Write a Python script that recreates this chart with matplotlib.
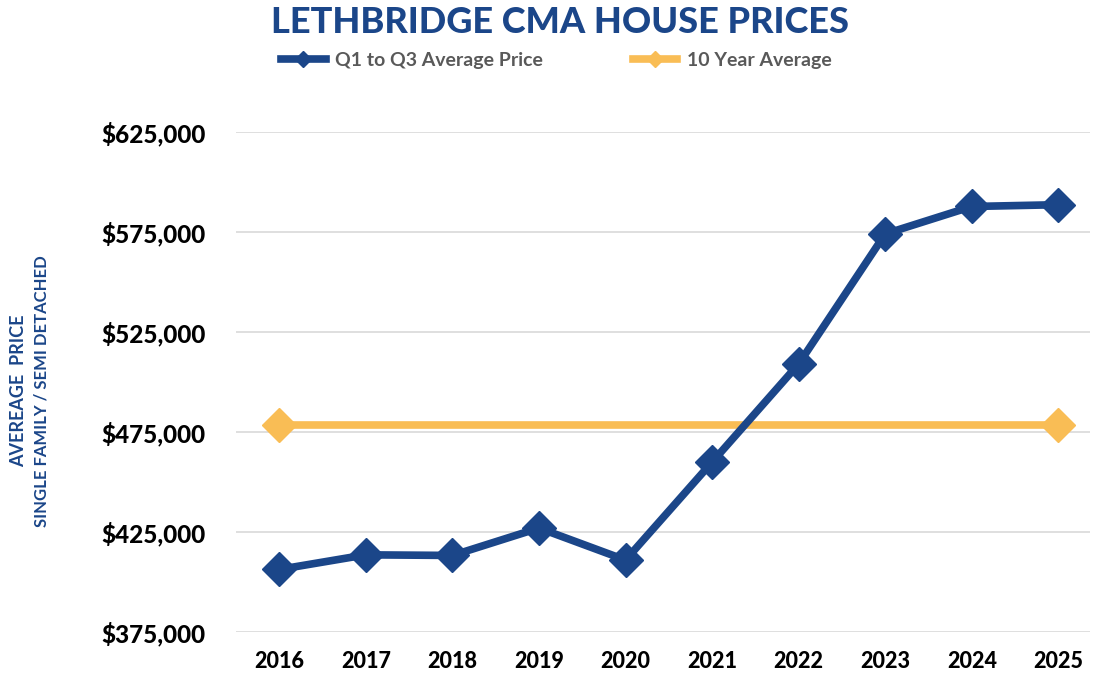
import matplotlib.pyplot as plt
from matplotlib.ticker import FuncFormatter

years = ["2016", "2017", "2018", "2019", "2020", "2021", "2022", "2023", "2024", "2025"]
avg_price = [406300, 413600, 413300, 427000, 411000, 460000, 509100, 574200, 587900, 588800]
ten_year_avg = [478700] * len(years)

navy = "#1b4689"
gold = "#f9bd55"

plt.rcParams["font.family"] = ["Lato", "DejaVu Sans"]

fig = plt.figure(figsize=(10.95, 6.77), dpi=100)
ax = fig.add_axes([0.2155, 0.0665, 0.7795, 0.738])

x = list(range(len(years)))
ax.plot(x, avg_price, color=navy, lw=5.5, marker="D", ms=17, zorder=3,
        label="Q1 to Q3 Average Price", solid_joinstyle="miter")
ax.plot(x, ten_year_avg, color=gold, lw=5.5, marker="D", ms=17, markevery=[0, len(years) - 1],
        zorder=2, label="10 Year Average")

ax.set_ylim(375000, 625000)
ax.set_yticks(range(375000, 625001, 50000))
ax.yaxis.set_major_formatter(FuncFormatter(lambda v, _: f"${v:,.0f}"))
ax.set_xlim(-0.5, 9.36)
ax.set_xticks(x)
ax.set_xticklabels(years)
ax.grid(axis="y", color="#dcdcdc", lw=1.3)
ax.set_axisbelow(True)
for s in ax.spines.values():
    s.set_visible(False)
ax.tick_params(length=0)
ax.tick_params(axis="y", labelsize=17.5, pad=22)
ax.tick_params(axis="x", labelsize=15.5, pad=14)
for lbl in ax.get_yticklabels() + ax.get_xticklabels():
    lbl.set_fontweight(900)
    lbl.set_color("black")
for line in ax.lines:
    line.set_clip_on(False)

fig.text(0.511, 0.967, "LETHBRIDGE CMA HOUSE PRICES", ha="center", va="center",
         fontsize=26, fontweight=900, color=navy)

leg = fig.legend(loc="center", bbox_to_anchor=(0.508, 0.911), ncol=2, frameon=False,
                 markerscale=0.45, handlelength=2.3, columnspacing=4.6, handletextpad=0.5,
                 prop={"size": 14, "weight": "bold"})
for t in leg.get_texts():
    t.set_color("#595959")

fig.text(0.017, 0.423, "AVEREAGE  PRICE", rotation=90, ha="center", va="center",
         fontsize=13, fontweight="bold", color=navy)
fig.text(0.038, 0.423, "SINGLE FAMILY / SEMI DETACHED", rotation=90, ha="center", va="center",
         fontsize=12, fontweight="bold", color=navy)

fig.savefig("out.png", dpi=100)
